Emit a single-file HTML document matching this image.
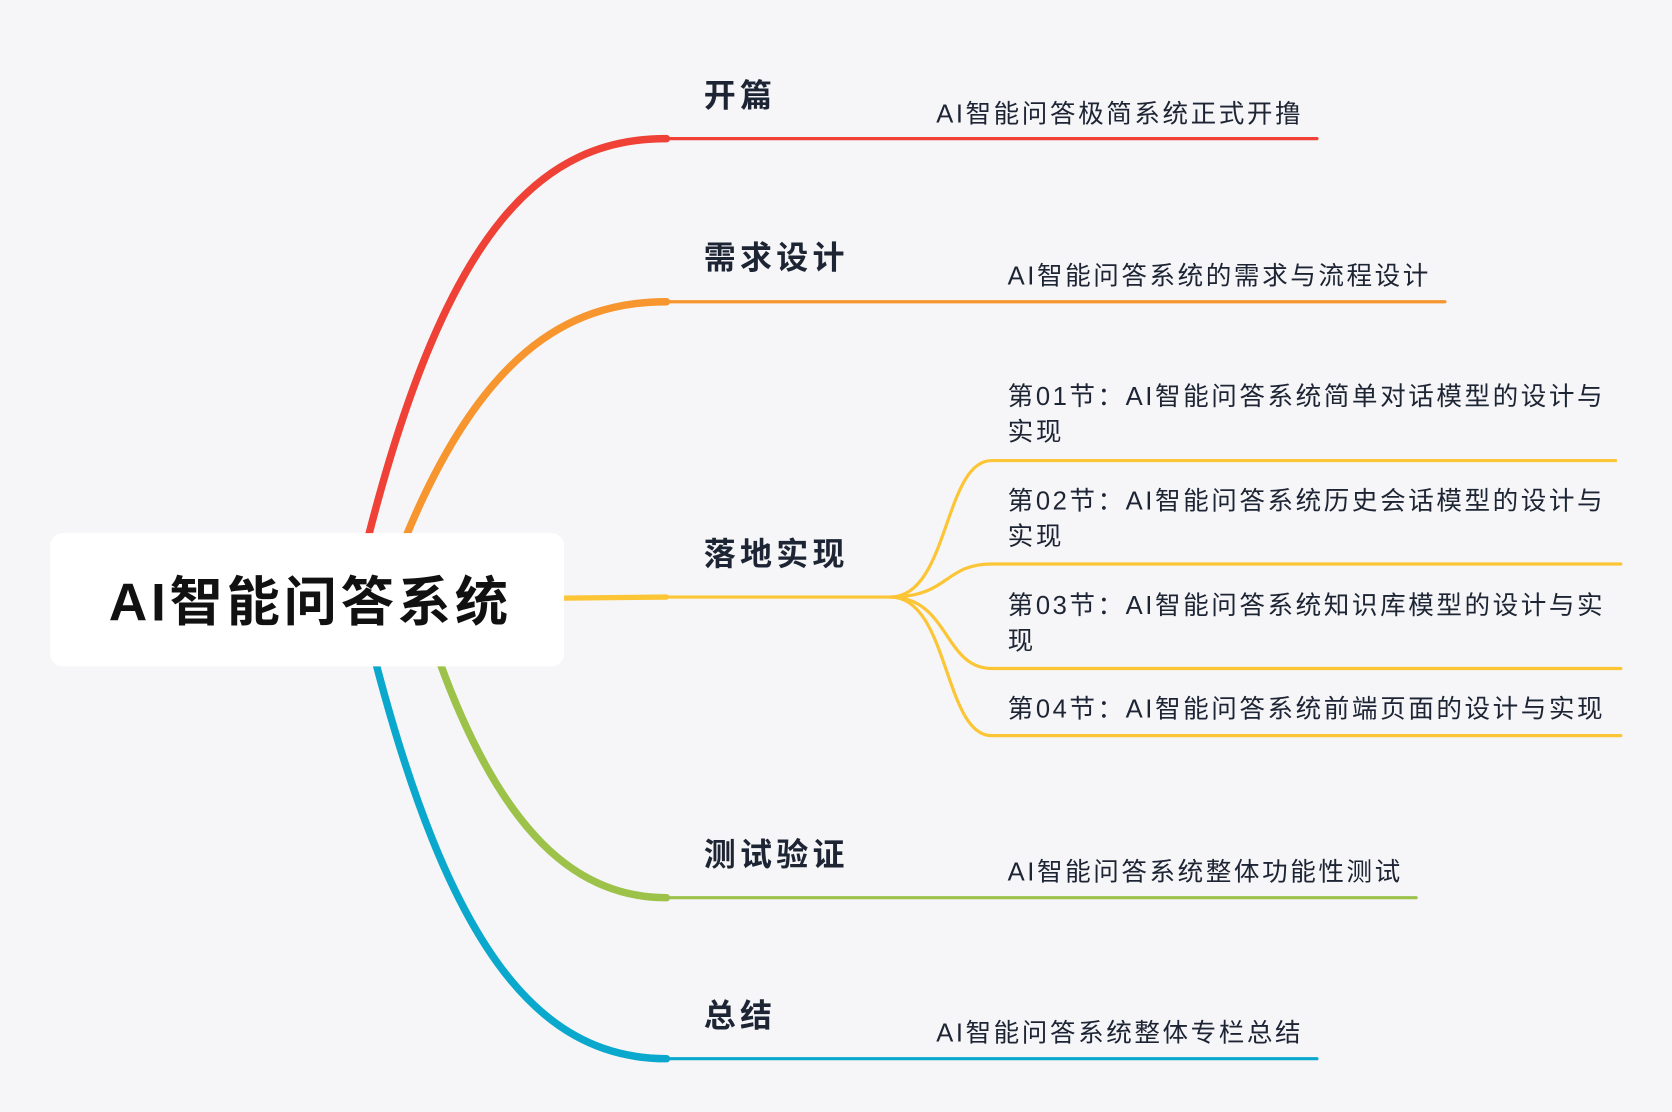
<!DOCTYPE html>
<html><head><meta charset="utf-8"><style>
html,body{margin:0;padding:0;background:#f6f6f8;}
svg{display:block;}
text{font-family:"Liberation Sans","Noto Sans CJK SC",sans-serif;fill:#1d2433;}
.t{font-size:30px;font-weight:bold;letter-spacing:4px;}
.s{font-size:24px;letter-spacing:2.4px;}
</style></head><body>
<svg width="1672" height="1112" viewBox="0 0 1568 1043" preserveAspectRatio="none" xmlns="http://www.w3.org/2000/svg">
<rect width="1568" height="1043" fill="#f6f6f8"/>
<g fill="none" stroke-linecap="round">
<path d="M345,505 C 420,210 510,130 625,130" stroke="#ef4136" stroke-width="7"/>
<line x1="620" y1="130" x2="1235" y2="130" stroke="#ef4136" stroke-width="3"/>
<path d="M380,505 C 450,335 530,283 625,283" stroke="#f7962e" stroke-width="7"/>
<line x1="620" y1="283" x2="1355" y2="283" stroke="#f7962e" stroke-width="3"/>
<path d="M529,561 L625,560" stroke="#fbc536" stroke-width="5"/>
<line x1="620" y1="560" x2="840" y2="560" stroke="#fbc536" stroke-width="3"/>
<g stroke="#fbc536" stroke-width="3">
<path d="M835,560 C 890,560 885,432 930,432 L1515,432"/>
<path d="M835,560 C 890,560 885,529 930,529 L1520,529"/>
<path d="M835,560 C 890,560 885,627 930,627 L1520,627"/>
<path d="M835,560 C 890,560 885,690 930,690 L1520,690"/>
</g>
<path d="M412,620 C 470,780 540,842 625,842" stroke="#9dc24a" stroke-width="7"/>
<line x1="620" y1="842" x2="1328" y2="842" stroke="#9dc24a" stroke-width="3"/>
<path d="M352,620 C 420,880 500,993 625,993" stroke="#0aa8cc" stroke-width="7"/>
<line x1="620" y1="993" x2="1235" y2="993" stroke="#0aa8cc" stroke-width="3"/>
</g>
<rect x="47" y="500" width="482" height="125" rx="12" fill="#fff"/>
<text x="102" y="582" style="font-size:50px;font-weight:bold;fill:#111;letter-spacing:3.5px">AI智能问答系统</text>
<text class="t" x="660" y="100">开篇</text>
<text class="t" x="660" y="252">需求设计</text>
<text class="t" x="660" y="530">落地实现</text>
<text class="t" x="660" y="812">测试验证</text>
<text class="t" x="660" y="963">总结</text>
<text class="s" x="878" y="115">AI智能问答极简系统正式开撸</text>
<text class="s" x="945" y="267">AI智能问答系统的需求与流程设计</text>
<text class="s" x="945" y="380">第01节：AI智能问答系统简单对话模型的设计与</text>
<text class="s" x="945" y="413">实现</text>
<text class="s" x="945" y="478">第02节：AI智能问答系统历史会话模型的设计与</text>
<text class="s" x="945" y="511">实现</text>
<text class="s" x="945" y="576">第03节：AI智能问答系统知识库模型的设计与实</text>
<text class="s" x="945" y="609">现</text>
<text class="s" x="945" y="673">第04节：AI智能问答系统前端页面的设计与实现</text>
<text class="s" x="945" y="826">AI智能问答系统整体功能性测试</text>
<text class="s" x="878" y="977">AI智能问答系统整体专栏总结</text>
</svg>
</body></html>
